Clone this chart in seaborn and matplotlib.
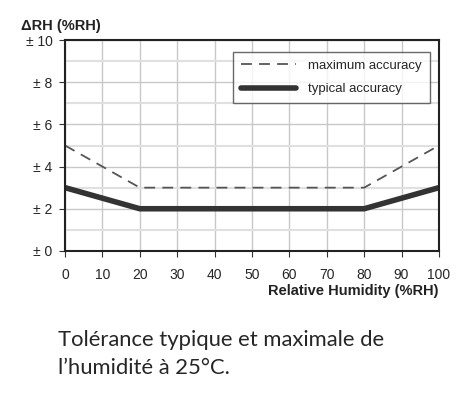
import numpy as np
import pandas as pd
import matplotlib
matplotlib.use("Agg")
import matplotlib.pyplot as plt
import seaborn as sns

# Données
rh = [0, 20, 80, 100]
max_acc = [5, 3, 3, 5]
typ_acc = [3, 2, 2, 3]
x_ticks = [0, 10, 20, 30, 40, 50, 60, 70, 80, 90, 100]
y_ticks = [0, 2, 4, 6, 8, 10]
y_labels = ["± 0", "± 2", "± 4", "± 6", "± 8", "± 10"]

df = pd.DataFrame({"rh": rh + rh,
                   "acc": max_acc + typ_acc,
                   "serie": ["maximum accuracy"] * 4 + ["typical accuracy"] * 4})

sns.set_style("white")
plt.rcParams["font.family"] = ["Liberation Sans", "DejaVu Sans"]

fig = plt.figure(figsize=(4.75, 3.97), dpi=100)
ax = fig.add_axes([0.137, 0.368, 0.787, 0.531])

sns.lineplot(data=df[df.serie == "maximum accuracy"], x="rh", y="acc", ax=ax,
             color="#555555", lw=1.3, linestyle=(0, (6, 4)),
             label="maximum accuracy")
sns.lineplot(data=df[df.serie == "typical accuracy"], x="rh", y="acc", ax=ax,
             color="#333333", lw=4, label="typical accuracy")

ax.set_xlim(0, 100)
ax.set_ylim(0, 10)
ax.set_xticks(x_ticks)
ax.set_yticks(y_ticks)
ax.set_yticklabels(y_labels)
ax.set_yticks(np.arange(1, 10, 2), minor=True)
ax.grid(True, which="major", color="#c8c8c8", lw=1)
ax.grid(True, which="minor", axis="y", color="#e0e0e0", lw=1.5)
ax.tick_params(axis="both", which="major", labelsize=10, length=4, color="#333333",
               direction="out", bottom=True, left=True)
ax.tick_params(axis="x", which="major", pad=8)
ax.tick_params(axis="y", which="major", pad=5)
ax.tick_params(axis="y", which="minor", length=0)
for s in ax.spines.values():
    s.set_color("#222222")
    s.set_linewidth(1.5)

ax.set_xlabel("Relative Humidity (%RH)", fontsize=10.5, fontweight="bold", color="#222222")
ax.xaxis.set_label_coords(1.0, -0.155)
ax.xaxis.label.set_horizontalalignment("right")
ax.set_ylabel("")
fig.text(0.045, 0.925, "ΔRH (%RH)", fontsize=10.5, fontweight="bold", color="#222222")

leg = ax.legend(loc="upper right", fontsize=9.5, frameon=True, fancybox=False,
                edgecolor="#444444", handlelength=4.2, borderpad=0.6,
                labelspacing=0.85, handletextpad=0.9, bbox_to_anchor=(0.993, 0.977))
leg.get_frame().set_linewidth(1)

fig.text(0.122, 0.168, "Tolérance typique et maximale de\nl’humidité à 25°C.",
         fontsize=15.8, family=["Lato", "DejaVu Sans"], linespacing=1.45, va="top")

fig.savefig("out.png", dpi=100, facecolor="white")
